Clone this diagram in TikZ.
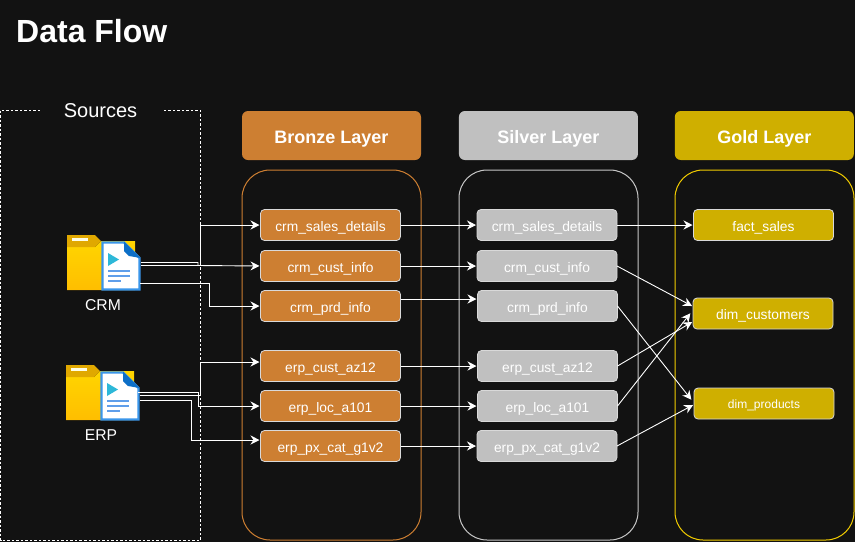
\documentclass[tikz,border=0pt]{standalone}
\usepackage{fontspec}
\setmainfont{Liberation Sans}
\usetikzlibrary{arrows.meta,positioning}
\definecolor{pagebg}{HTML}{121212}
\definecolor{bronzecol}{HTML}{CD7F32}
\definecolor{silvercol}{HTML}{C0C0C0}
\definecolor{goldcol}{HTML}{CFAF00}
\definecolor{goldline}{HTML}{F2CC00}
\definecolor{folderhi}{HTML}{FFD500}
\definecolor{folderlo}{HTML}{FFBE00}
\definecolor{foldertab}{HTML}{E0A800}
\definecolor{docblue}{HTML}{3A96EA}
\definecolor{docdark}{HTML}{0D6FC7}
\definecolor{docline}{HTML}{5F9EEA}
\definecolor{docplay}{HTML}{2DB8D8}
\tikzset{
    layerbox/.style={rounded corners=6pt, align=center, inner sep=0pt, text=white,
        font=\fontsize{18}{20}\selectfont\bfseries, text height=16pt, text depth=0pt,
        minimum width=179pt, minimum height=49pt},
    layerframe/.style={draw, rounded corners=28pt, line width=1pt, inner sep=0pt,
        minimum width=179pt, minimum height=370pt},
    itembox/.style={draw=white!85!black, line width=0.8pt, rounded corners=4pt, align=center, inner sep=0pt,
        outer sep=0pt, text=white, font=\fontsize{13.8}{15}\selectfont, text height=12pt, text depth=0pt,
        minimum width=140pt, minimum height=31pt},
    flowarrow/.style={-{Stealth[length=9pt,width=9pt,inset=3pt]}, white, line width=0.9pt, shorten >=1pt},
    srcicon/.pic={
        \fill[top color=folderhi, bottom color=folderlo] (0,12) -- (28,12) -- (34,6) -- (68,6) -- (68,55) -- (0,55) -- cycle;
        \fill[foldertab] (0,0) -- (28,0) -- (34,6) -- (28,12) -- (0,12) -- cycle;
        \fill[white!90!yellow] (5,3) rectangle (21,5.5);
        \filldraw[fill=white, draw=docblue, line width=2.4pt] (35.5,7.5) -- (57,7.5) -- (72.5,23) -- (72.5,54.5) -- (35.5,54.5) -- cycle;
        \fill[docdark] (57,6.5) -- (73.5,23) -- (62,21) -- (57,16) -- cycle;
        \fill[docplay] (41,18) -- (52,24.5) -- (41,31) -- cycle;
        \draw[docline, line width=2.8pt] (41,36) -- (63,36) (41,41) -- (63,41) (41,46) -- (54,46);
    }
}

\begin{document}
\begin{tikzpicture}[x=1pt, y=-1pt, node distance=10pt and 76.5pt]
\useasboundingbox (0,0) rectangle (855,542);
\fill[pagebg] (0,0) rectangle (855,542);

\node[font=\fontsize{32}{36}\selectfont\bfseries, text=white, anchor=west, inner sep=0pt] (title) at (16,31) {Data Flow};

\draw[white, line width=0.8pt, dash pattern=on 2.5pt off 2pt] (0.5,110.5) rectangle (200.5,540);
\node[fill=pagebg, text=white, font=\fontsize{20}{22}\selectfont, minimum width=122pt, minimum height=14pt, inner sep=0pt] (sources) at (100.5,111) {Sources};

\node[layerbox, fill=bronzecol] (bronzehead) at (331.5,135.5) {Bronze Layer};
\node[layerbox, fill=silvercol, right=37.5pt of bronzehead] (silverhead) {Silver Layer};
\node[layerbox, fill=goldcol, right=36.5pt of silverhead] (goldhead) {Gold Layer};

\node[layerframe, draw=bronzecol] (bronzeframe) at (331.5,355) {};
\node[layerframe, draw=silvercol!90!white, right=37pt of bronzeframe] (silverframe) {};
\node[layerframe, draw=goldline, right=36pt of silverframe] (goldframe) {};

\node[itembox, fill=bronzecol] (bsales) at (330.5,225) {crm\_sales\_details};
\node[itembox, fill=bronzecol, below=10pt of bsales] (bcust) {crm\_cust\_info};
\node[itembox, fill=bronzecol, below=9pt of bcust] (bprd) {crm\_prd\_info};
\node[itembox, fill=bronzecol, below=29pt of bprd] (baz) {erp\_cust\_az12};
\node[itembox, fill=bronzecol, below=9pt of baz] (bloc) {erp\_loc\_a101};
\node[itembox, fill=bronzecol, below=9pt of bloc] (bpx) {erp\_px\_cat\_g1v2};

\node[itembox, fill=silvercol, right=of bsales] (ssales) {crm\_sales\_details};
\node[itembox, fill=silvercol, right=of bcust] (scust) {crm\_cust\_info};
\node[itembox, fill=silvercol, right=77pt of bprd] (sprd) {crm\_prd\_info};
\node[itembox, fill=silvercol, right=77pt of baz] (saz) {erp\_cust\_az12};
\node[itembox, fill=silvercol, right=77pt of bloc] (sloc) {erp\_loc\_a101};
\node[itembox, fill=silvercol, right=of bpx] (spx) {erp\_px\_cat\_g1v2};

\node[itembox, fill=goldcol, right=of ssales] (fsales) {fact\_sales};
\node[itembox, fill=goldcol] (dcust) at (763,313.5) {dim\_customers};
\node[itembox, fill=goldcol, font=\fontsize{12}{14}\selectfont, text height=10.5pt] (dprod) at (764,403.5) {dim\_products};

\pic at (67,235) {srcicon};
\pic at (66,365) {srcicon};
\node[text=white, font=\fontsize{15.7}{17}\selectfont, inner sep=0pt] (crmlabel) at (103,305) {CRM};
\node[text=white, font=\fontsize{15.7}{17}\selectfont, inner sep=0pt] (erplabel) at (101,435) {ERP};

\coordinate (crmout1) at (141,262.5);
\coordinate (crmout2) at (141,265.5);
\coordinate (crmout3) at (140,283.5);
\coordinate (erpout1) at (138,392.5);
\coordinate (erpout2) at (140,395.5);
\coordinate (erpout3) at (140,400.5);

\draw[flowarrow] (crmout1) -- (198,262.5) -- (198,265.5) -- (bcust.west);
\draw[flowarrow] (crmout2) -- (200.5,265.5) |- (bsales.west);
\draw[flowarrow] (crmout3) -- (209.5,283.5) |- (bprd.west);
\draw[flowarrow] (erpout1) -- (198,392.5) |- (bloc.west);
\draw[flowarrow] (erpout2) -- (200.5,395.5) |- ([yshift=4pt]baz.west);
\draw[flowarrow] (erpout3) -- (191,400.5) |- ([yshift=6pt]bpx.west);

\draw[flowarrow] (bsales) -- (ssales);
\draw[flowarrow] (bcust) -- (scust);
\draw[flowarrow] ([yshift=7pt]bprd.east) -- ([yshift=7pt]sprd.west);
\draw[flowarrow] (baz) -- (saz);
\draw[flowarrow] (bloc) -- (sloc);
\draw[flowarrow] (bpx) -- (spx);

\draw[flowarrow] (ssales) -- (fsales);
\draw[flowarrow] (scust.east) -- ([yshift=7pt]dcust.west);
\draw[flowarrow] (sprd.east) -- ([xshift=-2pt,yshift=3pt]dprod.west);
\draw[flowarrow] (saz.east) -- ([yshift=-8pt]dcust.west);
\draw[flowarrow] (sloc.east) -- ([xshift=-2pt,yshift=1pt]dcust.west);
\draw[flowarrow] (spx.east) -- ([yshift=-1pt]dprod.west);
\end{tikzpicture}
\end{document}
